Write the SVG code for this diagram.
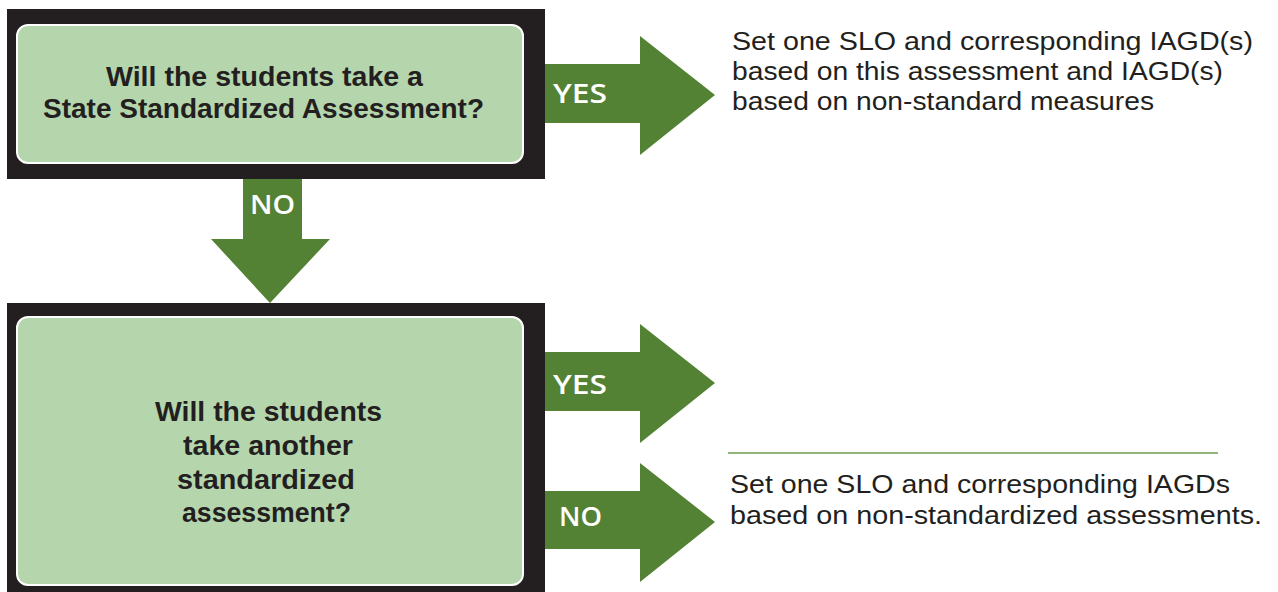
<svg xmlns="http://www.w3.org/2000/svg" width="1278" height="592" viewBox="0 0 1278 592">
<style>
.frame{fill:#231F20}
.inner{fill:#B5D6AD;stroke:#FFFFFF;stroke-width:2}
.q{font-family:"Liberation Sans",Arial,sans-serif;font-weight:700;font-size:27px;fill:#231F20}
.arrow{fill:#548235}
.lbl{font-family:"Open Sans","Liberation Sans",sans-serif;font-weight:600;font-size:27px;fill:#FFFFFF}
.out{font-family:"Liberation Sans",Arial,sans-serif;font-weight:400;font-size:26.5px;fill:#231F20}
.rule{stroke:#6E9E4E;stroke-width:1.5;fill:none}
</style>
<rect width="1278" height="592" fill="#FFFFFF"/>
<g id="connectors">
  <g id="arrow-yes-1">
    <polygon class="arrow" points="545,64 640,64 640,36 715,95 640,155 640,123 545,123"/>
    <text class="lbl" x="553" y="103" textLength="54" lengthAdjust="spacingAndGlyphs">YES</text>
  </g>
  <g id="arrow-no-1">
    <polygon class="arrow" points="243,179 302,179 302,239 330,239 270,303 211,239 243,239"/>
    <text class="lbl" x="250" y="214" textLength="45" lengthAdjust="spacingAndGlyphs">NO</text>
  </g>
  <g id="arrow-yes-2">
    <polygon class="arrow" points="545,352 640,352 640,324 715,383 640,443 640,411 545,411"/>
    <text class="lbl" x="553" y="394" textLength="54" lengthAdjust="spacingAndGlyphs">YES</text>
  </g>
  <g id="arrow-no-2">
    <polygon class="arrow" points="545,491 640,491 640,463 715,522 640,582 640,549 545,549"/>
    <text class="lbl" x="559" y="526" textLength="43" lengthAdjust="spacingAndGlyphs">NO</text>
  </g>
</g>
<g id="q1">
  <rect class="frame" x="7" y="9" width="538" height="170"/>
  <rect class="inner" x="17" y="25" width="506" height="138" rx="11"/>
  <text class="q" x="106" y="86" textLength="317" lengthAdjust="spacingAndGlyphs">Will the students take a</text>
  <text class="q" x="43" y="118" textLength="441" lengthAdjust="spacingAndGlyphs">State Standardized Assessment?</text>
</g>
<g id="q2">
  <rect class="frame" x="7" y="303" width="538" height="289"/>
  <rect class="inner" x="17" y="317" width="506" height="268" rx="11"/>
  <text class="q" x="155" y="421" textLength="227" lengthAdjust="spacingAndGlyphs">Will the students</text>
  <text class="q" x="183" y="455" textLength="170" lengthAdjust="spacingAndGlyphs">take another</text>
  <text class="q" x="177" y="489" textLength="178" lengthAdjust="spacingAndGlyphs">standardized</text>
  <text class="q" x="182" y="522" textLength="169" lengthAdjust="spacingAndGlyphs">assessment?</text>
</g>
<g id="outcome-1">
  <text class="out" x="732" y="50" textLength="521" lengthAdjust="spacingAndGlyphs">Set one SLO and corresponding IAGD(s)</text>
  <text class="out" x="732" y="80" textLength="491" lengthAdjust="spacingAndGlyphs">based on this assessment and IAGD(s)</text>
  <text class="out" x="732" y="110" textLength="422" lengthAdjust="spacingAndGlyphs">based on non-standard measures</text>
</g>
<g id="outcome-2">
  <line class="rule" x1="728" y1="453" x2="1218" y2="453"/>
  <text class="out" x="730" y="493" textLength="500" lengthAdjust="spacingAndGlyphs">Set one SLO and corresponding IAGDs</text>
  <text class="out" x="730" y="524" textLength="532" lengthAdjust="spacingAndGlyphs">based on non-standardized assessments.</text>
</g>
</svg>
